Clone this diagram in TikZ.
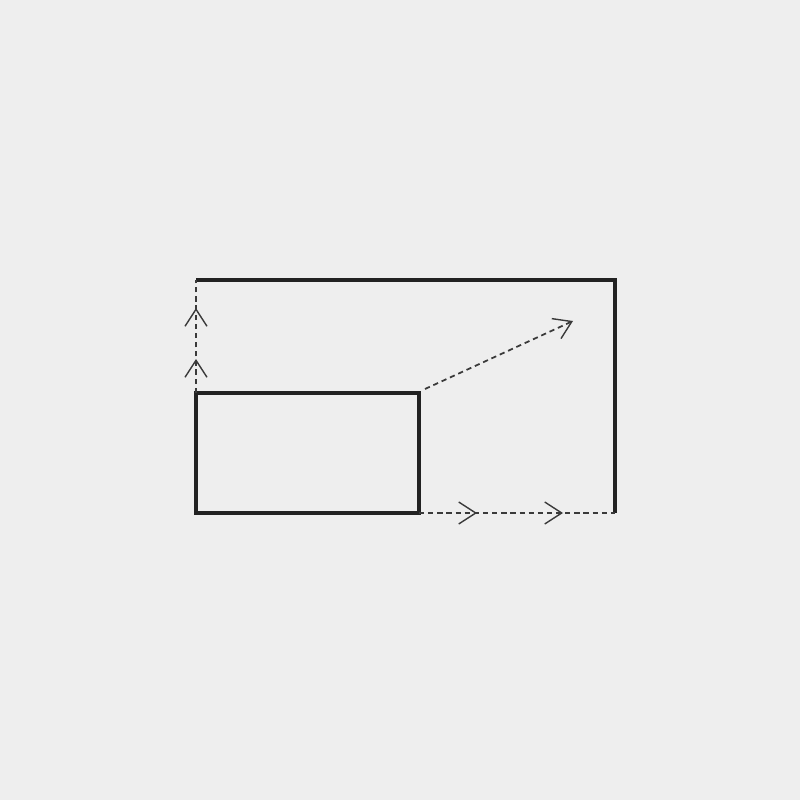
\documentclass[tikz,border=0pt]{standalone}
\usetikzlibrary{arrows.meta,decorations.markings}
\definecolor{bgcol}{HTML}{EEEEEE}
\definecolor{inkcol}{HTML}{222222}
\definecolor{dashcol}{HTML}{3A3A3A}
\tikzset{
    wall/.style={draw=inkcol, line width=2.1pt},
    flow/.style={draw=dashcol, line width=1pt, dash pattern=on 3pt off 2.2pt},
    vtip/.tip={Straight Barb[length=0.34cm, width=0.44cm, line width=0.8pt]},
    twomarks/.style n args={2}{postaction={decorate}, decoration={markings,
        mark=at position #1 with {\arrow[dashcol, solid]{vtip}},
        mark=at position #2 with {\arrow[dashcol, solid]{vtip}}}}
}
\begin{document}
\begin{tikzpicture}
        \fill[bgcol] (0,0) rectangle (16,16);
        \useasboundingbox (0,0) rectangle (16,16);
        \node[wall, inner sep=0pt, outer sep=0pt, minimum width=4.46cm, minimum height=2.4cm, anchor=south west] (inner) at (3.92,5.74) {};
        \coordinate (tl) at (3.92,10.4);
        \coordinate (tr) at (12.3,10.4);
        \coordinate (br) at (12.3,5.74);
        \coordinate (from) at (8.5,8.22);
        \coordinate (to) at (11.46,9.58);
        \draw[wall] (tl) -- (tr) -- (br);
        \draw[flow, twomarks={0.68cm}{1.7cm}] (inner.north west) -- (tl);
        \draw[flow, twomarks={1.16cm}{2.88cm}] (inner.south east) -- (br);
        \draw[flow, -{vtip[sep=0pt]}] (from) -- (to);
    \end{tikzpicture}
\end{document}
